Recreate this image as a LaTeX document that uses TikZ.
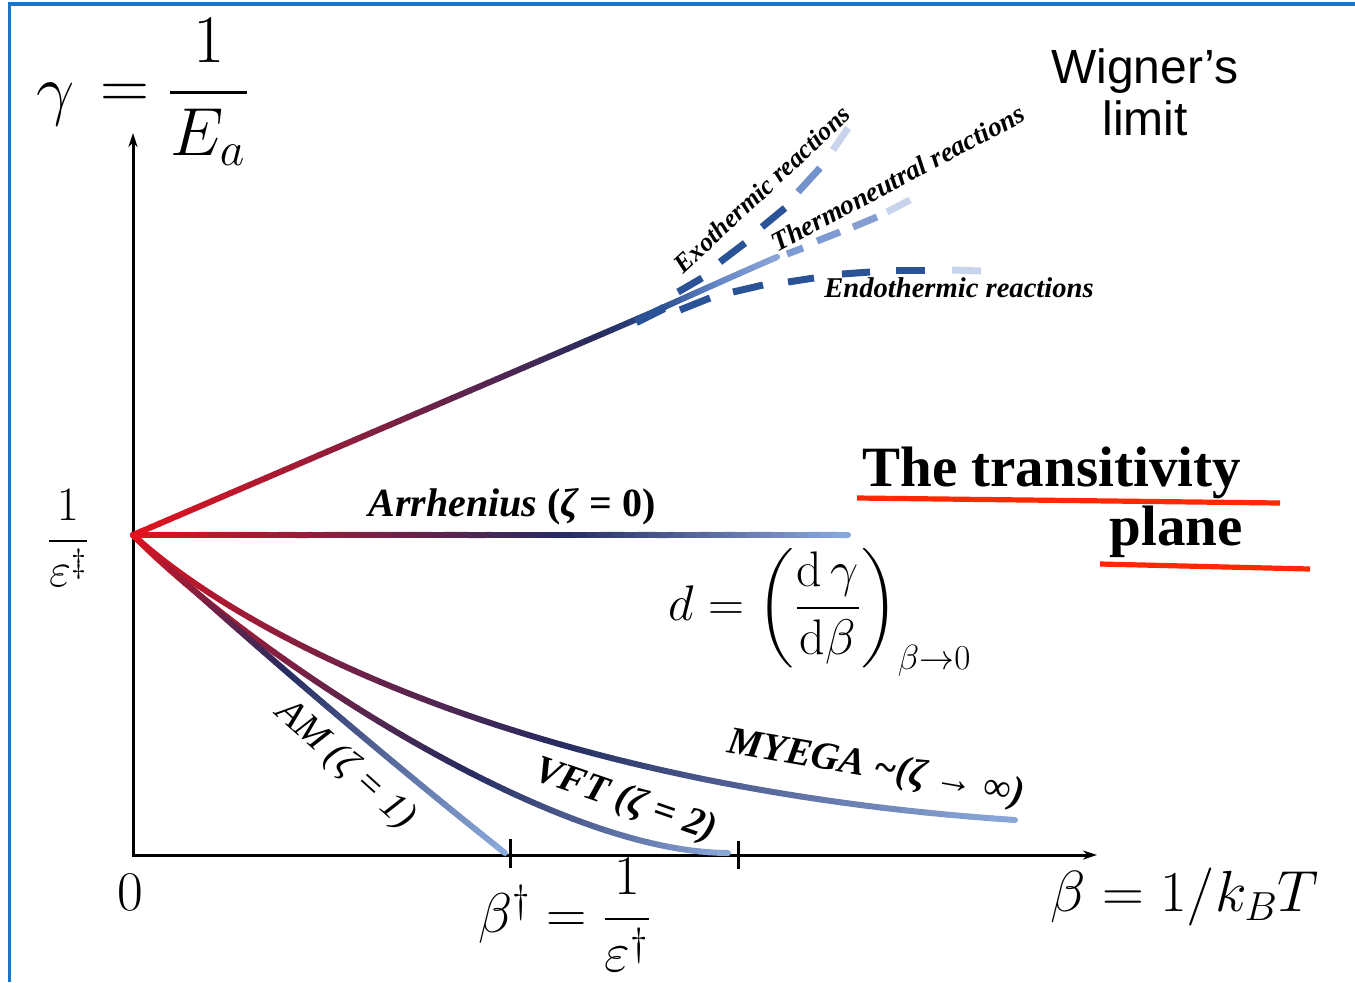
\RequirePackage{fix-cm}
\documentclass[tikz,border=0pt]{standalone}
\usepackage{amsmath}
\usepackage[no-math]{fontspec}
\setmainfont{Liberation Serif}
\newfontfamily\arialf{Liberation Sans}
\usetikzlibrary{arrows.meta}
\definecolor{cA}{RGB}{228,18,30}
\definecolor{cB}{RGB}{38,44,96}
\definecolor{cLight}{RGB}{140,170,220}
\colorlet{cEnd}{cLight}
\definecolor{dashblue}{RGB}{42,82,150}
\definecolor{dashmid}{RGB}{115,145,202}
\definecolor{dashpale}{RGB}{200,212,235}
\definecolor{thermo}{RGB}{125,155,210}
\definecolor{frameblue}{RGB}{22,118,204}
\definecolor{ulred}{RGB}{255,40,0}
\tikzset{
  curve/.style={line width=3pt,line cap=round},
  axis/.style={line width=1.5pt,black},
  dsh/.style={line width=3.5pt},
  lbl/.style={inner sep=0pt},
  bigmath/.style={inner sep=0pt,font=\fontsize{34}{40}\selectfont},
}
\def\gradbez(#1,#2)(#3,#4)(#5,#6)(#7,#8)[#9]{%
  \foreach \i in {1,...,60}{%
    \pgfmathsetmacro\ta{(\i-1)/60}%
    \pgfmathsetmacro\tb{\i/60}%
    \pgfmathsetmacro\sa{1-\ta}%
    \pgfmathsetmacro\sb{1-\tb}%
    \pgfmathsetmacro\xa{\sa*\sa*\sa*#1+3*\sa*\sa*\ta*#3+3*\sa*\ta*\ta*#5+\ta*\ta*\ta*#7}%
    \pgfmathsetmacro\ya{\sa*\sa*\sa*#2+3*\sa*\sa*\ta*#4+3*\sa*\ta*\ta*#6+\ta*\ta*\ta*#8}%
    \pgfmathsetmacro\xb{\sb*\sb*\sb*#1+3*\sb*\sb*\tb*#3+3*\sb*\tb*\tb*#5+\tb*\tb*\tb*#7}%
    \pgfmathsetmacro\yb{\sb*\sb*\sb*#2+3*\sb*\sb*\tb*#4+3*\sb*\tb*\tb*#6+\tb*\tb*\tb*#8}%
    \pgfmathsetmacro\tm{(\ta+\tb)/2}%
    \pgfmathtruncatemacro\q{(\tm<#9) ? (100*\tm/#9) : (100*(\tm-#9)/(1-#9))}%
    \ifdim\tm pt<#9pt \colorlet{segc}{cB!\q!cA}\else\colorlet{segc}{cEnd!\q!cB}\fi
    \draw[curve,segc] (\xa,\ya) -- (\xb,\yb);
  }}
\begin{document}
\begin{tikzpicture}[x=0.5pt,y=-0.5pt]
\useasboundingbox (0,0) rectangle (1355,982);
% frame
\draw[frameblue,line width=1.6pt] (9.5,982) -- (9.5,4) -- (1355,4);
% axes
\coordinate (O) at (133,855);
\coordinate (P) at (133,535);
\coordinate (ytip) at (133,133);
\coordinate (xtip) at (1097,855);
\draw[axis,-{Stealth[length=7pt,width=4.5pt]}] (133,857) -- (ytip);
\draw[axis,-{Stealth[length=7pt,width=4.5pt]}] (131.5,855) -- (xtip);
\coordinate (t1) at (510,855);
\coordinate (t2) at (738,855);
\draw[axis] ([yshift=8pt]t1) -- ([yshift=-6.5pt]t1);
\draw[axis] ([yshift=7pt]t2) -- ([yshift=-7pt]t2);
% curves
\gradbez(133,535)(260,650)(560,790)(1015,820)[0.62]
\gradbez(133,535)(240,645)(545,853)(728,853)[0.6]
\gradbez(133,535)(203,600)(355,734)(505,853)[0.5]
\gradbez(133,535)(350,535)(600,535)(848,535)[0.62]
\begin{scope}
\definecolor{cEnd}{RGB}{45,80,145}
\gradbez(133,535)(310,459)(488,383)(665,307)[0.88]
\end{scope}
\begin{scope}
\definecolor{cA}{RGB}{45,80,145}
\definecolor{cB}{RGB}{100,135,200}
\definecolor{cEnd}{RGB}{140,165,215}
\gradbez(662,308)(700,291)(740,273)(777,257)[0.5]
\end{scope}
\draw[dashblue,line width=4.2pt] (636,322) -- (664,308);
% exothermic dashes
\draw[dsh,dashblue] (678,292) -- (702,278);
\draw[dsh,dashblue] (720,262) -- (745,243);
\draw[dsh,dashblue] (762,227) -- (785,208);
\draw[dsh,dashmid] (798,192) -- (820,168);
\draw[dsh,dashpale] (833,150) -- (848,128);
% thermoneutral dashes
\draw[dsh,thermo] (787,254) -- (803,248);
\draw[dsh,thermo] (817,241) -- (840,232);
\draw[dsh,dashmid!80!dashpale] (853,227) -- (877,217);
\draw[dsh,dashpale] (887,212) -- (910,200);
% endothermic dashes
\draw[dsh,dashblue] (680,310) -- (710,298);
\draw[dsh,dashblue] (733,292) -- (763,285);
\draw[dsh,dashblue] (788,282) -- (814,278);
\draw[dsh,dashblue] (842,274) -- (870,272);
\draw[dsh,dashblue] (896,270) -- (925,270);
\draw[dsh,dashpale] (952,270) -- (981,271);
% gamma = 1/E_a
\node[bigmath] (gam) at (56,104) {$\gamma$};
\node[bigmath] (geq) at (125,96) {$=$};
\node[bigmath] (gnum) at (209,41) {$1$};
\node[bigmath] (gden) at (208,137) {$E_a$};
\coordinate (gb1) at (170,92); \coordinate (gb2) at (247,92);
\draw[line width=1.5pt] (gb1) -- (gb2);
% other math labels
\node[font=\fontsize{24}{28}\selectfont] (eps) at (68,538) {$\dfrac{1}{\varepsilon^{\ddagger}}$};
\node[font=\fontsize{28}{32}\selectfont] (zero) at (130,892) {$0$};
\node[font=\fontsize{28}{32}\selectfont] (bdag) at (565,915) {$\beta^{\dagger} = \dfrac{1}{\varepsilon^{\dagger}}$};
\node[font=\fontsize{29}{34}\selectfont] (beta) at (1185,897) {$\beta = 1/k_BT$};
\node[font=\fontsize{25}{30}\selectfont] (dd) at (820,612) {$d = \left(\dfrac{\mathrm{d}\,\gamma}{\mathrm{d}\beta}\right)_{\beta\to 0}$};
% text labels
\node[font=\arialf\fontsize{24}{26}\selectfont,anchor=base] (wig1) at (1145,83) {Wigner’s};
\node[font=\arialf\fontsize{24}{26}\selectfont,anchor=base] (wig2) at (1145,135) {limit};
\node[lbl,font=\bfseries\fontsize{28.5}{30}\selectfont,anchor=base west] (tt1) at (862,486) {The transitivity};
\node[lbl,font=\bfseries\fontsize{28.5}{30}\selectfont,anchor=base east] (tt2) at (1243,545) {plane};
\coordinate (u1a) at (857,498); \coordinate (u1b) at (1280,503);
\coordinate (u2a) at (1100,564); \coordinate (u2b) at (1310,569);
\draw[ulred,line width=2.6pt] (u1a) -- (u1b);
\draw[ulred,line width=2.6pt] (u2a) -- (u2b);
\node[lbl,font=\bfseries\fontsize{20}{22}\selectfont,anchor=base] (arr) at (512,516) {\textit{Arrhenius} (\textit{ζ} = 0)};
\node[lbl,font=\itshape\fontsize{19.5}{22}\selectfont,rotate=-42] (am) at (345,765) {AM (ζ = 1)};
\node[lbl,font=\bfseries\itshape\fontsize{19.5}{22}\selectfont,rotate=-19] (vft) at (625,801) {VFT (ζ = 2)};
\node[lbl,font=\bfseries\itshape\fontsize{19.5}{22}\selectfont,rotate=-10] (mye) at (876,769) {MYEGA \textasciitilde(ζ → ∞)};
\node[lbl,font=\bfseries\itshape\fontsize{13}{16}\selectfont,rotate=43] (exo) at (762,189) {Exothermic reactions};
\node[lbl,font=\bfseries\itshape\fontsize{13.7}{16}\selectfont,rotate=28] (thm) at (898,178) {Thermoneutral reactions};
\node[lbl,font=\bfseries\itshape\fontsize{14.3}{16}\selectfont,anchor=base] (endo) at (959,297) {Endothermic reactions};
\end{tikzpicture}
\end{document}
